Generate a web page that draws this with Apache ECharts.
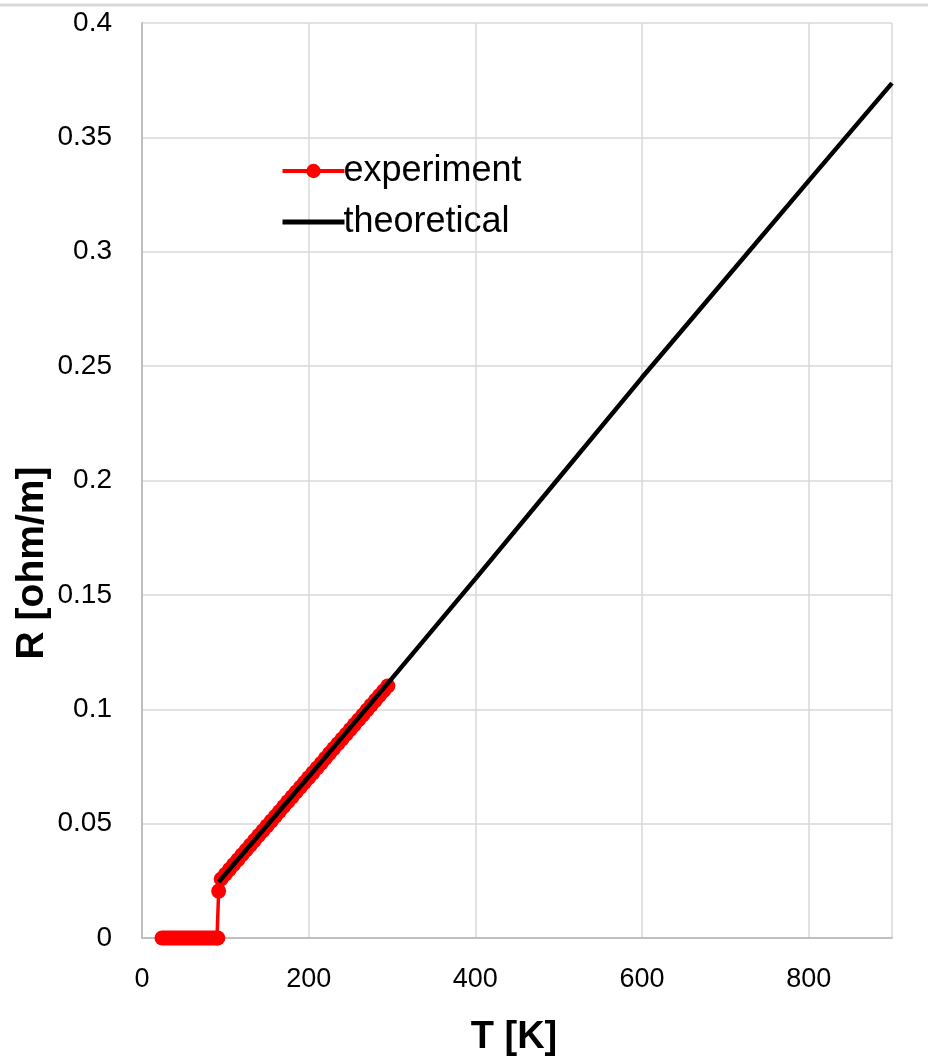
<!DOCTYPE html>
<html>
<head>
<meta charset="utf-8">
<script src="https://cdn.jsdelivr.net/npm/echarts@6/dist/echarts.min.js"></script>
<style>
  html, body { margin: 0; padding: 0; background: #fff; }
  #chart { width: 928px; height: 1056px; }
</style>
</head>
<body>
<div id="chart"></div>
<script>
// measured resistance (T in K, R in ohm/m)
const expT = [24, 27, 30, 33, 36, 39, 42, 45, 48, 51, 54, 57, 60, 63, 66, 69, 72, 75, 78, 81, 84, 87, 90, 91,
  92,
  95, 100, 105, 110, 115, 120, 125, 130, 135, 140, 145, 150, 155, 160, 165, 170, 175, 180, 185, 190,
  195, 200, 205, 210, 215, 220, 225, 230, 235, 240, 245, 250, 255, 260, 265, 270, 275, 280, 285, 290, 295];
const expR = [0, 0, 0, 0, 0, 0, 0, 0, 0, 0, 0, 0, 0, 0, 0, 0, 0, 0, 0, 0, 0, 0, 0, 0,
  0.0205,
  0.0258, 0.0279, 0.0300, 0.0321, 0.0342, 0.0364, 0.0385, 0.0406, 0.0427, 0.0448, 0.0469, 0.0490, 0.0511,
  0.0532, 0.0553, 0.0575, 0.0596, 0.0617, 0.0638, 0.0659, 0.0680, 0.0701, 0.0722, 0.0743, 0.0764, 0.0786,
  0.0807, 0.0828, 0.0849, 0.0870, 0.0891, 0.0912, 0.0933, 0.0954, 0.0975, 0.0997, 0.1018, 0.1039, 0.1060,
  0.1081, 0.1102];

// theoretical curve
const theoT = [92, 200, 300, 400, 500, 600, 700, 800, 900];
const theoR = [0.0245, 0.0705, 0.1135, 0.157, 0.201, 0.245, 0.288, 0.331, 0.3737];

const seriesNames = ['experiment', 'theoretical'];
const xTitle = 'T [K]';
const yTitle = 'R [ohm/m]';

const font = '"Liberation Sans", Arial, sans-serif';

let myChart = echarts.init(document.getElementById('chart'));
let option = {
  animation: false,
  backgroundColor: '#fff',
  grid: { left: 142, right: 36, top: 23, bottom: 118 },
  legend: {
    orient: 'vertical',
    left: 280,
    top: 153,
    padding: 0,
    itemWidth: 62,
    itemHeight: 18,
    itemGap: 15,
    textStyle: { fontFamily: font, fontSize: 36, color: '#000', padding: [0, 0, 0, -6] },
    data: [
      { name: seriesNames[0], lineStyle: { width: 4 } },
      { name: seriesNames[1], lineStyle: { width: 5 }, itemStyle: { opacity: 0 } }
    ]
  },
  xAxis: {
    type: 'value',
    min: 0,
    max: 900,
    interval: 200,
    axisLine: { show: true, lineStyle: { color: '#bfbfbf', width: 2 } },
    axisTick: { show: false },
    axisLabel: { fontFamily: font, fontSize: 27, color: '#000', margin: 28, showMaxLabel: false },
    splitLine: { show: true, lineStyle: { color: '#d9d9d9', width: 1.5 } }
  },
  yAxis: {
    type: 'value',
    min: 0,
    max: 0.4,
    interval: 0.05,
    axisLine: { show: true, lineStyle: { color: '#bfbfbf', width: 2 } },
    axisTick: { show: false },
    axisLabel: { fontFamily: font, fontSize: 28, color: '#000', margin: 30 },
    splitLine: { show: true, lineStyle: { color: '#d9d9d9', width: 1.5 } }
  },
  graphic: [
    { type: 'line', shape: { x1: 0, y1: 5, x2: 928, y2: 5 }, style: { stroke: '#d9d9d9', lineWidth: 3 } },
    {
      type: 'text', x: 514, y: 1038,
      style: { text: xTitle, font: 'bold 38px ' + font, fill: '#000', align: 'center', verticalAlign: 'middle' }
    },
    {
      type: 'text', x: 32, y: 563, rotation: Math.PI / 2,
      style: { text: yTitle, font: 'bold 39px ' + font, fill: '#000', align: 'center', verticalAlign: 'middle' }
    }
  ],
  series: [
    {
      name: seriesNames[0],
      type: 'line',
      data: expT.map((t, i) => [t, expR[i]]),
      symbol: 'circle',
      symbolSize: 15,
      color: '#ff0000',
      lineStyle: { color: '#ff0000', width: 3.5 },
      itemStyle: { color: '#ff0000' },
      z: 2
    },
    {
      name: seriesNames[1],
      type: 'line',
      data: theoT.map((t, i) => [t, theoR[i]]),
      showSymbol: false,
      symbol: 'none',
      color: '#000',
      lineStyle: { color: '#000', width: 4.5 },
      z: 3
    }
  ]
};
option && myChart.setOption(option);
</script>
</body>
</html>
